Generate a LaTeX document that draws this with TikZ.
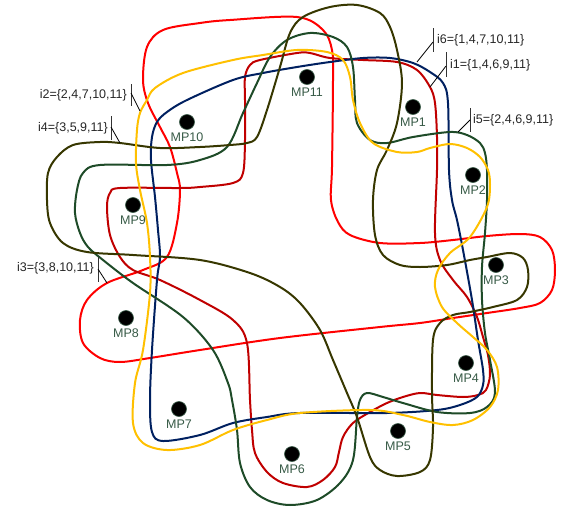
\documentclass[tikz,border=0pt]{standalone}
\usepackage{fontspec}
\setmainfont{Liberation Sans}
\definecolor{cRed}{RGB}{255,0,0}
\definecolor{cDRed}{RGB}{192,0,0}
\definecolor{cNavy}{RGB}{0,32,96}
\definecolor{cGreen}{RGB}{30,75,40}
\definecolor{cOlive}{RGB}{55,55,0}
\definecolor{cYellow}{RGB}{255,192,0}
\definecolor{cMP}{RGB}{55,90,70}
\begin{document}
\begin{tikzpicture}[x=1pt,y=-1pt,
  curve/.style={line width=2pt},
  dot/.style={circle,fill=black,draw=cMP,line width=0.6pt,minimum size=15pt,inner sep=0pt},
  mplabel/.style={text=cMP,font=\fontsize{12.5}{14}\selectfont,inner sep=0pt},
  lbl/.style={text=black!85,font=\fontsize{12.5}{14}\selectfont,inner sep=0pt},
  bar/.style={line width=0.9pt,black!80},
  ptr/.style={line width=0.8pt,black}]
\useasboundingbox (0,0) rectangle (563,509);

% i3 red
\draw[curve,cRed] plot[smooth cycle,tension=0.55] coordinates {
(147,47) (163,30) (200,23) (230,20) (297,17) (323,30) (332,50) (333,80) (332,167) (331,200) (338,222) (350,235) (380,243) (420,243) (453,240) (487,236) (520,234) (540,237) (552,250) (555,270) (552,290) (540,303) (520,308) (487,313) (453,318) (420,323) (380,327) (280,338) (200,350) (150,358) (120,362) (100,358) (83,343) (80,320) (87,300) (107,283) (143,270) (167,257) (177,223) (180,190) (177,173) (170,147) (160,127) (148,103) (143,80)};

% i1 dark red
\draw[curve,cDRed] plot[smooth cycle,tension=0.55] coordinates {
(245,77) (250,65) (260,60) (297,53) (310,53) (330,58) (363,60) (397,62) (417,70) (430,87) (435,103) (437,137) (437,170) (435,233) (440,260) (453,280) (467,297) (477,317) (483,337) (488,355) (490,375) (486,390) (478,395) (463,397) (437,395) (420,393) (403,397) (387,403) (370,412) (353,423) (343,437) (339,452) (335,467) (323,480) (307,487) (283,483) (267,472) (255,453) (252,430) (250,400) (247,343) (233,320) (200,300) (160,280) (133,270) (120,257) (110,235) (107,207) (110,193) (120,188) (180,188) (200,187) (233,183) (243,173) (245,140) (245,100)};

% i6 navy
\draw[curve,cNavy] plot[smooth cycle,tension=0.55] coordinates {
(413,63) (430,72) (443,83) (448,103) (449,170) (452,200) (457,220) (463,250) (472,300) (478,340) (483,370) (483,385) (477,397) (460,405) (437,410) (387,413) (300,413) (267,417) (233,423) (200,435) (163,441) (152,432) (150,400) (152,350) (157,280) (160,257) (158,230) (155,197) (151,160) (152,137) (157,122) (167,112) (187,100) (233,80) (263,73) (297,67) (330,62) (363,58) (390,58)};

% i5 green
\draw[curve,cGreen] plot[smooth cycle,tension=0.55] coordinates {
(287,40) (310,33) (333,37) (347,47) (353,67) (355,100) (357,123) (370,140) (387,143) (413,137) (450,132) (467,135) (480,143) (485,153) (487,170) (487,200) (485,233) (482,267) (482,300) (485,333) (490,360) (495,393) (487,407) (470,413) (437,412) (403,403) (383,397) (367,393) (360,400) (357,417) (353,460) (340,483) (317,500) (290,505) (267,500) (250,487) (240,463) (237,430) (232,400) (228,383) (213,350) (183,317) (133,283) (103,260) (88,247) (80,233) (75,213) (77,190) (83,173) (100,165) (167,165) (200,160) (227,147) (243,113) (257,83) (270,57)};

% i4 olive
\draw[curve,cOlive] plot[smooth cycle,tension=0.55] coordinates {
(330,7) (357,5) (380,13) (390,27) (397,50) (402,83) (397,123) (387,150) (377,170) (373,200) (375,235) (383,255) (400,265) (420,267) (447,265) (470,260) (487,257) (510,253) (523,258) (528,270) (527,287) (517,300) (493,307) (470,312) (453,315) (440,323) (433,340) (432,393) (433,427) (430,460) (420,472) (397,476) (380,470) (370,457) (357,417) (347,393) (333,360) (320,330) (300,303) (280,287) (250,273) (200,260) (133,255) (87,252) (63,243) (50,223) (47,200) (48,173) (57,157) (73,145) (100,142) (120,143) (160,148) (200,147) (230,145) (247,143) (257,137) (267,110) (280,67) (290,33) (303,17)};

% i2 yellow
\draw[curve,cYellow] plot[smooth cycle,tension=0.55] coordinates {
(233,60) (263,55) (297,50) (327,52) (343,60) (350,77) (353,100) (360,123) (373,143) (397,152) (417,152) (430,148) (450,144) (467,148) (480,157) (488,170) (490,185) (487,207) (470,237) (450,253) (438,270) (435,287) (442,307) (457,323) (473,337) (487,350) (497,367) (498,390) (490,407) (473,420) (453,425) (430,422) (403,415) (370,410) (300,413) (267,420) (233,430) (200,445) (167,450) (143,443) (133,423) (135,383) (143,350) (150,293) (150,257) (147,223) (140,190) (136,163) (137,130) (140,113) (147,100) (155,88) (183,73)};

% members
\foreach \n/\x/\y in {1/413/107,2/473/175,3/496/265,4/466/363,5/398/431,6/292/454,7/179/409,8/126/318,9/133/205,10/187/122,11/307/77}{
  \node[dot] (mp\n) at (\x,\y) {};
  \node[mplabel] (mpl\n) at (\x,\y+15) {MP\n};
}

% labels
\node[lbl,anchor=west] (i6) at (437,40) {i6=\{1,4,7,10,11\}};
\node[lbl,anchor=west] (i1) at (450,65) {i1=\{1,4,6,9,11\}};
\node[lbl,anchor=west] (i5) at (473,120) {i5=\{2,4,6,9,11\}};
\node[lbl,anchor=east] (i2) at (127,95) {i2=\{2,4,7,10,11\}};
\node[lbl,anchor=east] (i4) at (108,128) {i4=\{3,5,9,11\}};
\node[lbl,anchor=east] (i3) at (94,268) {i3=\{3,8,10,11\}};

\coordinate (b6t) at (433,28); \coordinate (b6b) at (433,52); \coordinate (b6m) at (433,42); \coordinate (c6) at (417,62);
\coordinate (b1t) at (446,52); \coordinate (b1b) at (446,77); \coordinate (b1m) at (446,66); \coordinate (c1) at (430,87);
\coordinate (b5t) at (470,108); \coordinate (b5b) at (470,132); \coordinate (b5m) at (470,120); \coordinate (c5) at (458,132);
\coordinate (b2t) at (131,84); \coordinate (b2b) at (131,106); \coordinate (b2m) at (131,93); \coordinate (c2) at (140,111);
\coordinate (b4t) at (111,116); \coordinate (b4b) at (111,140); \coordinate (b4m) at (111,127); \coordinate (c4) at (120,143);
\coordinate (b3t) at (98,257); \coordinate (b3b) at (98,282); \coordinate (b3m) at (98,269); \coordinate (c3) at (107,283);
\foreach \k in {6,1,5,2,4,3}{
  \draw[bar] (b\k t) -- (b\k b);
  \draw[ptr] (b\k m) -- (c\k);
}
\end{tikzpicture}
\end{document}
